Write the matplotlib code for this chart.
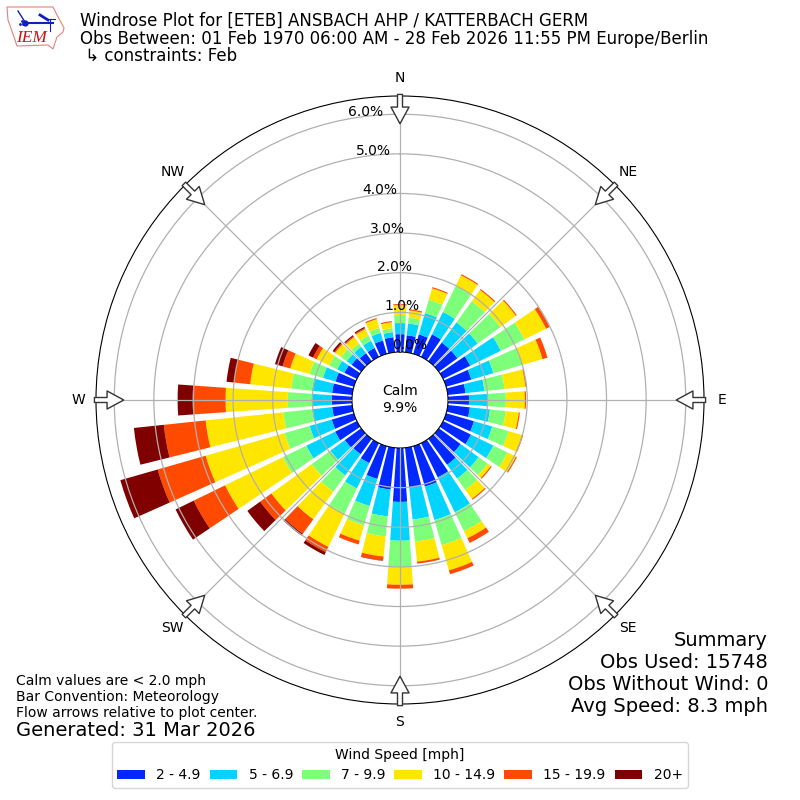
import matplotlib
matplotlib.use("Agg")
import matplotlib.pyplot as plt
from matplotlib.patches import Patch, Polygon
from matplotlib.lines import Line2D
import numpy as np

# percent of obs per 10 degree sector, north first and going clockwise
directions = np.arange(0, 360, 10)
bin_2_5 = [.45, .43, .51, .63, .58, .58, .76, .66, .45, .53, .56, .73,
           .78, .68, .81, .96, 1.06, 1.01, 1.36, 1.06, .86, .56, .48, .51,
           .61, .58, .51, .51, .51, .48, .35, .30, .25, .25, .35, .38]
bin_5_7 = [.28, .30, .56, .63, .63, .63, .86, .58, .48, .48, .51, .48,
           .63, .56, .43, .98, .88, .81, .98, .68, .71, .71, .66, .45,
           .81, .58, .51, .48, .51, .33, .20, .15, .20, .20, .20, .13]
bin_7_10 = [.20, .15, .35, .73, .66, .71, .66, .76, .51, .45, .40, .43,
            .40, .28, .35, .53, .66, .56, .66, .51, .51, .71, .51, .58,
            .66, .66, .73, .63, .53, .35, .23, .18, .10, .15, .13, .10]
bin_10_15 = [.25, .18, .30, .30, .35, .48, .61, .53, .53, .48, .33, .35,
             .23, .10, .28, .20, .66, .51, .45, .51, .40, .93, .86, 1.26,
             1.62, 2.07, 1.97, 1.57, 1.04, .51, .35, .18, .20, .18, .23, .15]
bin_15_20 = [.03, .03, .03, .03, .03, .03, .10, .13, .03, .03, .03, .03,
             .03, .03, .03, .13, .10, .05, .10, .10, .10, .15, .45, .35,
             .88, 1.26, 1.06, .83, .40, .20, .10, .03, .03, .03, .03, .03]
bin_20 = [0, 0, 0, 0, 0, 0, 0, 0, 0, 0, 0, 0,
          0, 0, 0, 0, 0, 0, 0, .01, 0, .08, .06, .40,
          .51, .98, .76, .38, .20, .20, .13, .05, .03, .03, 0, 0]
speed_bins = [bin_2_5, bin_5_7, bin_7_10, bin_10_15, bin_15_20, bin_20]
bin_labels = ["2 - 4.9", "5 - 6.9", "7 - 9.9", "10 - 14.9", "15 - 19.9", "20+"]
bin_colors = ["#0028ff", "#00d4ff", "#7dff7a", "#ffe600", "#ff4a00", "#800000"]
compass = ["N", "NE", "E", "SE", "S", "SW", "W", "NW"]
rings = [1, 2, 3, 4, 5, 6]

fig = plt.figure(figsize=(8, 8), dpi=100)
ax = fig.add_axes([0.12, 0.12, 0.76, 0.76], projection="polar")
ax.set_theta_zero_location("N")
ax.set_theta_direction(-1)

theta = np.radians(directions)
bottom = np.zeros(len(directions))
for vals, color in zip(speed_bins, bin_colors):
    ax.bar(theta, vals, width=np.radians(8), bottom=bottom, color=color, linewidth=0)
    bottom = bottom + np.array(vals)

ax.set_ylim(0, 6.46)
ax.set_rorigin(-1.212)
ax.set_yticks(rings)
ax.set_yticklabels([])
ax.set_xticks(np.radians(np.arange(0, 360, 45)))
ax.set_xticklabels(compass)
ax.tick_params(axis="x", pad=2.5)
ax.set_axisbelow(False)
ax.grid(True, color="#b0b0b0", linewidth=0.9)

# flow arrows around the rim
for t in np.radians(np.arange(0, 360, 45)):
    ax.annotate("", xy=(t, 5.76), xytext=(t, 6.5), annotation_clip=False,
                arrowprops=dict(facecolor="white", edgecolor="#333333", width=3.6,
                                headwidth=13, headlength=12, linewidth=1))

# ring labels sit on a slanted line left of north
for i, pct in enumerate([0, 1, 2, 3, 4, 5, 6]):
    fig.text((409.5 - 7.3 * i) / 800, 1 - (345 - 38.8 * i) / 800, "%.1f%%" % pct,
             ha="center", va="center", fontsize=10)

fig.text(0.5, 1 - 399.5 / 800, "Calm\n9.9%", ha="center", va="center", fontsize=10)

# titles
fig.text(80 / 800, 1 - 21 / 800, "Windrose Plot for [ETEB] ANSBACH AHP / KATTERBACH GERM",
         va="center", fontsize=12)
fig.text(80 / 800, 1 - 39 / 800, "Obs Between: 01 Feb 1970 06:00 AM - 28 Feb 2026 11:55 PM Europe/Berlin",
         va="center", fontsize=12)
fig.text(80 / 800, 1 - 56 / 800, " \u21b3 constraints: Feb", va="center", fontsize=12)

# bottom left notes
fig.text(16 / 800, 1 - 681 / 800, "Calm values are < 2.0 mph", va="center", fontsize=10)
fig.text(16 / 800, 1 - 697 / 800, "Bar Convention: Meteorology", va="center", fontsize=10)
fig.text(16 / 800, 1 - 713 / 800, "Flow arrows relative to plot center.", va="center", fontsize=10)
fig.text(16 / 800, 1 - 730 / 800, "Generated: 31 Mar 2026", va="center", fontsize=14)

# summary box
summary = ["Summary", "Obs Used: 15748", "Obs Without Wind: 0", "Avg Speed: 8.3 mph"]
for i, line in enumerate(summary):
    fig.text(768 / 800, 1 - (640 + 22 * i) / 800, line, ha="right", va="center", fontsize=14)

handles = [Patch(facecolor=c, label=l) for c, l in zip(bin_colors, bin_labels)]
fig.legend(handles=handles, title="Wind Speed [mph]", ncol=6, loc="center",
           bbox_to_anchor=(0.5, 1 - 765 / 800), fontsize=10, columnspacing=0.65)

# IEM logo in pixel coordinates
logo = fig.add_axes([0, 1 - 56 / 800, 70 / 800, 56 / 800])
logo.set_xlim(0, 70)
logo.set_ylim(56, 0)
logo.axis("off")
outline = [(7, 7), (53, 7), (57, 15), (64, 28), (63, 32), (57, 37), (55, 43), (53, 49),
           (48, 45), (17, 46), (14, 37), (8, 20)]
logo.add_patch(Polygon(outline, closed=True, fill=False, edgecolor="#e88080", linewidth=0.8))
logo.add_line(Line2D([25, 53], [23, 23], color="#1020c0", linewidth=1.5))
logo.add_line(Line2D([18, 25], [11, 22], color="#1020c0", linewidth=1))
logo.add_line(Line2D([40, 48], [15, 20], color="#1020c0", linewidth=2))
logo.add_line(Line2D([47, 55], [19, 19], color="#1020c0", linewidth=0.8))
logo.add_line(Line2D([50, 50], [19, 31], color="#1020c0", linewidth=0.8))
logo.plot([25], [23], "o", color="#1020c0", markersize=3.5)
logo.plot([20, 23, 22], [24, 24, 21], ".", color="#1020c0", markersize=2)
logo.text(31, 38, "IEM", family="Liberation Serif", style="italic", color="#d01010",
          fontsize=12.5, ha="center", va="center")

fig.savefig("out.png", dpi=100)
